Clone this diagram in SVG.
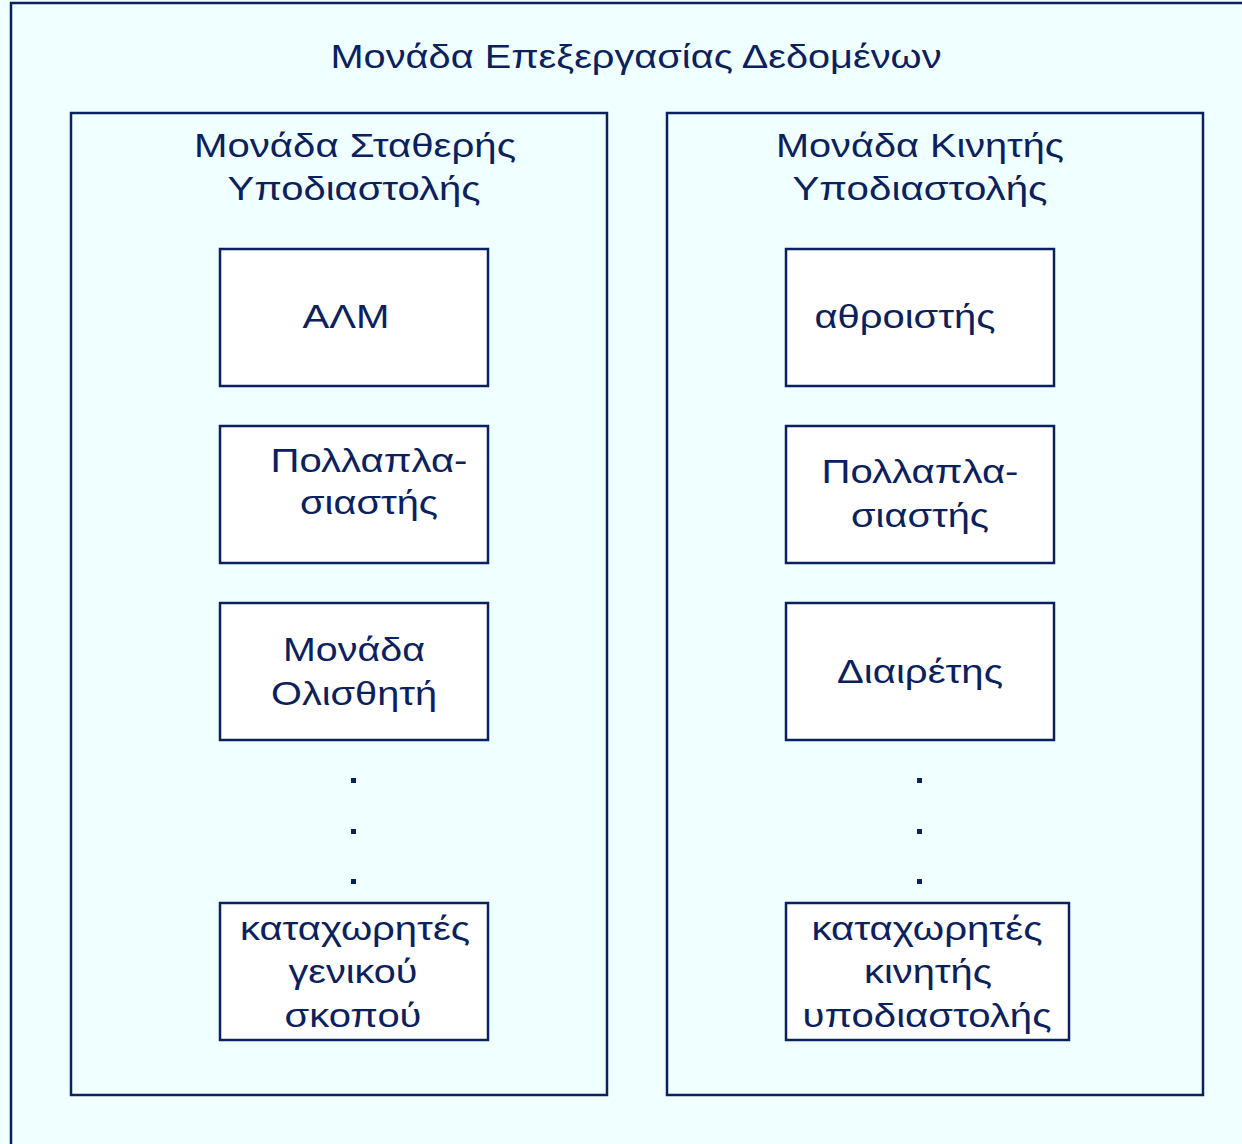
<svg xmlns="http://www.w3.org/2000/svg" width="1242" height="1144" viewBox="0 0 1242 1144">
  <style>
    .frame { fill: #f0ffff; stroke: #0b215e; stroke-width: 2.5; }
    .box { fill: #ffffff; stroke: #0b215e; stroke-width: 2.5; }
    text { font-family: "Liberation Sans", Arial, sans-serif; font-size: 34px; fill: #0b215e; text-anchor: middle; }
    .dot { fill: #0b215e; }
  </style>
  <rect width="1242" height="1144" fill="#f0ffff"/>

  <!-- outer data-processing unit -->
  <g id="data-unit">
    <rect class="frame" x="11" y="3" width="1250" height="1160"/>
    <text x="636" y="68" textLength="611" lengthAdjust="spacingAndGlyphs">Μονάδα Επεξεργασίας Δεδομένων</text>
  </g>

  <!-- fixed-point unit -->
  <g id="fixed-point-unit">
    <rect class="frame" x="71" y="113" width="536" height="982"/>
    <text x="355" y="157" textLength="322" lengthAdjust="spacingAndGlyphs">Μονάδα Σταθερής</text>
    <text x="354" y="200" textLength="253" lengthAdjust="spacingAndGlyphs">Υποδιαστολής</text>
  </g>
  <g id="alu">
    <rect class="box" x="220" y="249" width="268" height="137"/>
    <text x="346" y="328" textLength="87" lengthAdjust="spacingAndGlyphs">ΑΛΜ</text>
  </g>
  <g id="fixed-multiplier">
    <rect class="box" x="220" y="426" width="268" height="137"/>
    <text x="369" y="472" textLength="197" lengthAdjust="spacingAndGlyphs">Πολλαπλα-</text>
    <text x="369" y="514" textLength="138" lengthAdjust="spacingAndGlyphs">σιαστής</text>
  </g>
  <g id="shifter">
    <rect class="box" x="220" y="603" width="268" height="137"/>
    <text x="354" y="661" textLength="142" lengthAdjust="spacingAndGlyphs">Μονάδα</text>
    <text x="354" y="705" textLength="166" lengthAdjust="spacingAndGlyphs">Ολισθητή</text>
  </g>
  <g id="fixed-dots">
    <rect class="dot" x="351" y="778" width="5" height="5"/>
    <rect class="dot" x="351" y="829" width="5" height="5"/>
    <rect class="dot" x="351" y="879" width="5" height="5"/>
  </g>
  <g id="general-registers">
    <rect class="box" x="220" y="903" width="268" height="137"/>
    <text x="355" y="940" textLength="230" lengthAdjust="spacingAndGlyphs">καταχωρητές</text>
    <text x="353" y="983" textLength="129" lengthAdjust="spacingAndGlyphs">γενικού</text>
    <text x="353" y="1027" textLength="137" lengthAdjust="spacingAndGlyphs">σκοπού</text>
  </g>

  <!-- floating-point unit -->
  <g id="floating-point-unit">
    <rect class="frame" x="667" y="113" width="536" height="982"/>
    <text x="920" y="157" textLength="288" lengthAdjust="spacingAndGlyphs">Μονάδα Κινητής</text>
    <text x="920" y="200" textLength="255" lengthAdjust="spacingAndGlyphs">Υποδιαστολής</text>
  </g>
  <g id="adder">
    <rect class="box" x="786" y="249" width="268" height="137"/>
    <text x="905" y="328" textLength="181" lengthAdjust="spacingAndGlyphs">αθροιστής</text>
  </g>
  <g id="float-multiplier">
    <rect class="box" x="786" y="426" width="268" height="137"/>
    <text x="920" y="483" textLength="197" lengthAdjust="spacingAndGlyphs">Πολλαπλα-</text>
    <text x="920" y="527" textLength="138" lengthAdjust="spacingAndGlyphs">σιαστής</text>
  </g>
  <g id="divider">
    <rect class="box" x="786" y="603" width="268" height="137"/>
    <text x="920" y="683" textLength="166" lengthAdjust="spacingAndGlyphs">Διαιρέτης</text>
  </g>
  <g id="float-dots">
    <rect class="dot" x="917" y="778" width="5" height="5"/>
    <rect class="dot" x="917" y="829" width="5" height="5"/>
    <rect class="dot" x="917" y="879" width="5" height="5"/>
  </g>
  <g id="float-registers">
    <rect class="box" x="786" y="903" width="283" height="137"/>
    <text x="927" y="940" textLength="231" lengthAdjust="spacingAndGlyphs">καταχωρητές</text>
    <text x="928" y="983" textLength="128" lengthAdjust="spacingAndGlyphs">κινητής</text>
    <text x="927" y="1027" textLength="249" lengthAdjust="spacingAndGlyphs">υποδιαστολής</text>
  </g>

  <g id="connectors"/>
</svg>
